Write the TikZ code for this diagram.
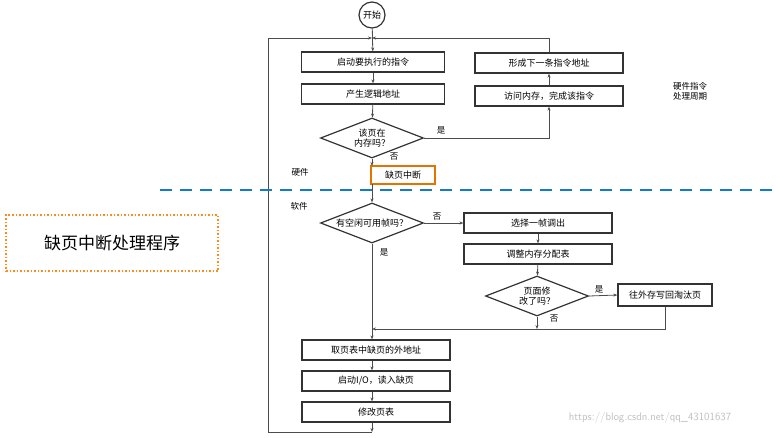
\documentclass[tikz,border=0pt]{standalone}
\usepackage{fontspec}
\setmainfont{Noto Sans CJK SC}
\usetikzlibrary{shapes.geometric,arrows.meta}
\tikzset{
	stepbox/.style={draw=black!80,line width=1.2pt,minimum width=143pt,minimum height=20pt,inner sep=1pt,font=\fontsize{9}{10}\selectfont},
	ask/.style={draw=black!80,line width=1.2pt,shape=diamond,aspect=2.6,minimum width=103pt,minimum height=40pt,inner sep=0pt,font=\fontsize{9}{10}\selectfont,align=center},
	flow/.style={draw=black!70,line width=0.8pt,-{Stealth[length=4pt]}},
	tag/.style={font=\fontsize{8.5}{10}\selectfont}
}
\begin{document}
\begin{tikzpicture}[x=1pt,y=-1pt]
	\useasboundingbox (0,0) rectangle (776,437);
	\node[shape=circle,draw=black!80,line width=1.2pt,minimum size=26pt,inner sep=0pt,font=\fontsize{9}{10}\selectfont] (start) at (372,15) {开始};
	\coordinate (top) at (372,38);
	\node[stepbox] (exec) at (373,62) {启动要执行的指令};
	\node[stepbox] (logic) at (373,94) {产生逻辑地址};
	\node[ask] (inmem) at (372,138) {该页在\\内存吗？};
	\node[stepbox,minimum width=148pt] (next) at (549,63) {形成下一条指令地址};
	\node[stepbox,minimum width=148pt] (visit) at (549,96) {访问内存，完成该指令};
	\node[draw=orange!90!black,line width=1.5pt,minimum width=64pt,minimum height=18pt,inner sep=1pt,font=\fontsize{9}{10}\selectfont] (fault) at (403,175) {缺页中断};
	\node[ask] (free) at (372,223) {有空闲可用帧吗？};
	\node[stepbox,minimum width=148pt] (pick) at (538,223) {选择一帧调出};
	\node[stepbox,minimum width=148pt] (adjust) at (538,254) {调整内存分配表};
	\node[ask] (dirty) at (537,296) {页面修\\改了吗？};
	\node[stepbox,minimum width=94pt,minimum height=22pt] (write) at (665,295) {往外存写回淘汰页};
	\coordinate (merge) at (372,329);
	\node[stepbox,minimum width=148pt] (addr) at (376,350) {取页表中缺页的外地址};
	\node[stepbox,minimum width=148pt] (io) at (376,381) {启动I/O，读入缺页};
	\node[stepbox,minimum width=148pt] (table) at (376,412) {修改页表};
	\coordinate (bottom) at (372,432);
	% connectors
	\draw[flow] (start) -- (exec);
	\draw[flow] (exec) -- (logic);
	\draw[flow] (logic) -- (inmem);
	\draw[flow] (inmem.east) -| (visit.south);
	\draw[flow] (visit) -- (next);
	\draw[flow] (next.north) |- (top);
	\draw[flow] (bottom) -| (268,38) -- (top);
	\draw[flow] (inmem.south) -- (372,166);
	\draw[flow] (372,184) -- (free.north);
	\draw[flow] (free.east) -- (pick.west);
	\draw[flow] (pick) -- (adjust);
	\draw[flow] (adjust) -- (dirty);
	\draw[flow] (dirty.east) -- (write.west);
	\draw[flow] (dirty.south) -- (537,329);
	\draw[flow] (write.south) |- (merge);
	\draw[flow] (free.south) -- (addr.north -| merge);
	\draw[flow] (addr.south -| merge) -- (io.north -| merge);
	\draw[flow] (io.south -| merge) -- (table.north -| merge);
	\draw[flow] (table.south -| merge) -- (bottom);
	% labels
	\node[tag] (yes1) at (441,130) {是};
	\node[tag] (no1) at (394,157) {否};
	\node[tag] (no2) at (437,217) {否};
	\node[tag] (yes2) at (384,252) {是};
	\node[tag] (yes3) at (599,289) {是};
	\node[tag] (no3) at (554,319) {否};
	\node[tag] (hw) at (300,172) {硬件};
	\node[tag] (sw) at (299,206) {软件};
	\node[tag,align=center] (cycle) at (690,91) {硬件指令\\处理周期};
	\draw[color=cyan!60!blue,line width=2.5pt,dash pattern=on 12pt off 8pt] (160,190) -- (776,190);
	\node[draw=orange!90,line width=1.5pt,dotted,minimum width=212pt,minimum height=56pt,font=\fontsize{17}{20}\selectfont] (handler) at (112,243) {缺页中断处理程序};
	\node[text=black!25,font=\fontsize{11}{12}\selectfont\sffamily] (mark) at (650,418) {https://blog.csdn.net/qq\_43101637};
\end{tikzpicture}
\end{document}
